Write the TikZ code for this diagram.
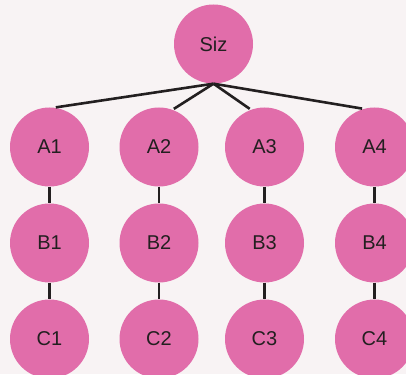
\documentclass[tikz,border=0pt]{standalone}
\usepackage{fontspec}
\setmainfont{Liberation Sans}
\usepackage{xcolor}
\usepackage{tikz}
\definecolor{bgpink}{HTML}{F8F3F4}
\definecolor{nodepink}{HTML}{E16DAA}
\definecolor{textdark}{HTML}{231F20}

\begin{document}
\begin{tikzpicture}[x=1pt,y=1pt,
  ball/.style={circle,fill=nodepink,minimum size=79pt,inner sep=0pt,
    text=textdark,font=\fontsize{20}{24}\selectfont},
  link/.style={line width=2.6pt,color=textdark}]
\fill[bgpink](0,0) rectangle (406,374);
\useasboundingbox(0,0) rectangle (406,374);

\node[ball] (siz) at (213.5,330) {Siz};

%\node[ball] (a1) at (49.5,227) {A1};
\foreach\x[count=\i] in{49.5,159,264.5,374.5}{
  \node[ball] (a\i) at (\x,227) {A\i};
  \node[ball] (b\i) at (\x,131) {B\i};
  \node[ball] (c\i) at (\x,35) {C\i};
  \draw[link](a\i) -- (b\i);
  \draw[link](b\i) -- (c\i);
};

\foreach\i/\ang in{1/83,2/70,3/110,4/106}{\draw[link,shorten >=1.5pt](siz.south) -- (a\i.\ang);};
\end{tikzpicture}
\end{document}
